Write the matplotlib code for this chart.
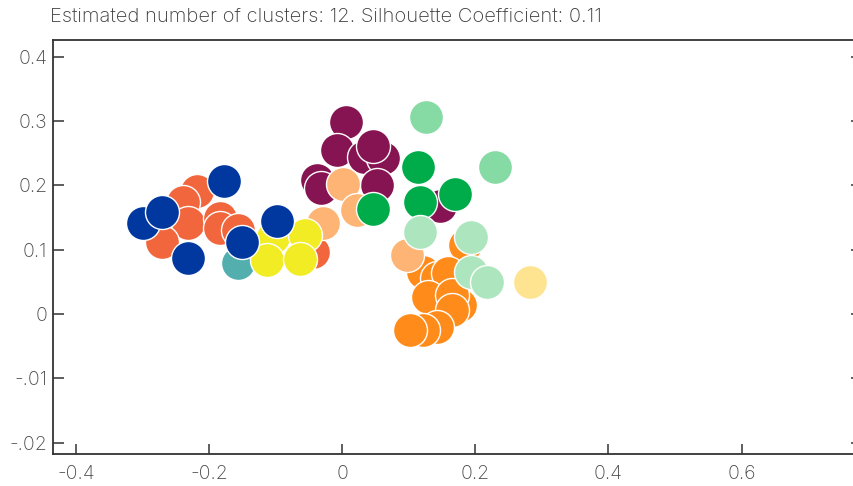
import matplotlib
matplotlib.use("Agg")
import matplotlib.pyplot as plt

# cluster points, drawn in this order
red_x = [-0.218, -0.239, -0.231, -0.270, -0.183, -0.183, -0.156, -0.0435]
red_y = [0.191, 0.174, 0.142, 0.112, 0.149, 0.134, 0.131, 0.0965]

orange_x = [0.1845, 0.1215, 0.1425, 0.159, 0.129, 0.177, 0.165, 0.165, 0.1425, 0.1215, 0.102]
orange_y = [0.107, 0.065, 0.056, 0.064, 0.0265, 0.014, 0.0295, 0.006, -0.020, -0.025, -0.025]

teal_x = [-0.156]
teal_y = [0.079]

purple_x = [0.006, -0.0075, 0.033, 0.0615, 0.0465, -0.0375, -0.0315, 0.0525, 0.147]
purple_y = [0.299, 0.255, 0.244, 0.243, 0.261, 0.2085, 0.196, 0.2005, 0.168]

lorange_x = [-0.0285, 0.0015, 0.0225, 0.0976]
lorange_y = [0.1415, 0.202, 0.162, 0.092]

yellow_x = [-0.1035, -0.1125, -0.0555, -0.063]
yellow_y = [0.120, 0.084, 0.123, 0.0855]

green_x = [0.114, 0.117, 0.1695, 0.0465]
green_y = [0.2285, 0.174, 0.1865, 0.163]

pgreen_x = [0.117, 0.1935, 0.1935, 0.2175]
pgreen_y = [0.1275, 0.120, 0.065, 0.050]

lgreen_x = [0.126, 0.2295]
lgreen_y = [0.306, 0.2285]

lyellow_x = [0.282]
lyellow_y = [0.050]

navy_x = [-0.300, -0.270, -0.177, -0.231, -0.150, -0.0976]
navy_y = [0.1415, 0.159, 0.207, 0.087, 0.112, 0.145]

xticks = [-0.4, -0.2, 0, 0.2, 0.4, 0.6]
xtick_labels = ['-0.4', '-0.2', '0', '0.2', '0.4', '0.6']
yticks = [0.4, 0.3, 0.2, 0.1, 0, -0.1, -0.2]
ytick_labels = ['0.4', '0.3', '0.2', '0.1', '0', '-.01', '-.02']

groups = [
    (red_x, red_y, '#f1663c'),
    (orange_x, orange_y, '#ff8c1a'),
    (teal_x, teal_y, '#52afae'),
    (purple_x, purple_y, '#861352'),
    (lorange_x, lorange_y, '#fdb474'),
    (yellow_x, yellow_y, '#f2ec25'),
    (green_x, green_y, '#00ac4a'),
    (pgreen_x, pgreen_y, '#ade6be'),
    (lgreen_x, lgreen_y, '#86daa4'),
    (lyellow_x, lyellow_y, '#fee391'),
    (navy_x, navy_y, '#0038a0'),
]

plt.rcParams['font.family'] = ['Inter', 'DejaVu Sans']
plt.rcParams['font.weight'] = 'light'

fig = plt.figure(figsize=(8.54, 4.86), dpi=100)
ax = fig.add_axes([53 / 854, 1 - 454 / 486, (862 - 53) / 854, (454 - 40) / 486])

for gx, gy, c in groups:
    ax.scatter(gx, gy, s=600, c=c, edgecolors='white', linewidths=1.0, zorder=3)

ax.set_xlim(-0.4345, 0.781)
ax.set_ylim(-0.2177, 0.426)

ax.set_xticks(xticks)
ax.set_xticklabels(xtick_labels)
ax.set_yticks(yticks)
ax.set_yticklabels(ytick_labels)

for side in ['left', 'bottom', 'top']:
    ax.spines[side].set_color('#333333')
    ax.spines[side].set_linewidth(1.3)
ax.spines['right'].set_visible(False)

ax.tick_params(axis='y', direction='in', length=8, width=1.1, color='#333333',
               labelsize=14, labelcolor='#4a4a4a', pad=4, right=True)
ax.tick_params(axis='x', direction='in', length=7, width=1.1, color='#333333',
               labelsize=14, labelcolor='#4a4a4a', pad=8)

fig.text(50 / 854, 1 - 17 / 486, 'Estimated number of clusters: 12. Silhouette Coefficient: 0.11',
         ha='left', va='center', fontsize=14.5, color='#3a3a3a')

fig.savefig('out.png', dpi=100)
